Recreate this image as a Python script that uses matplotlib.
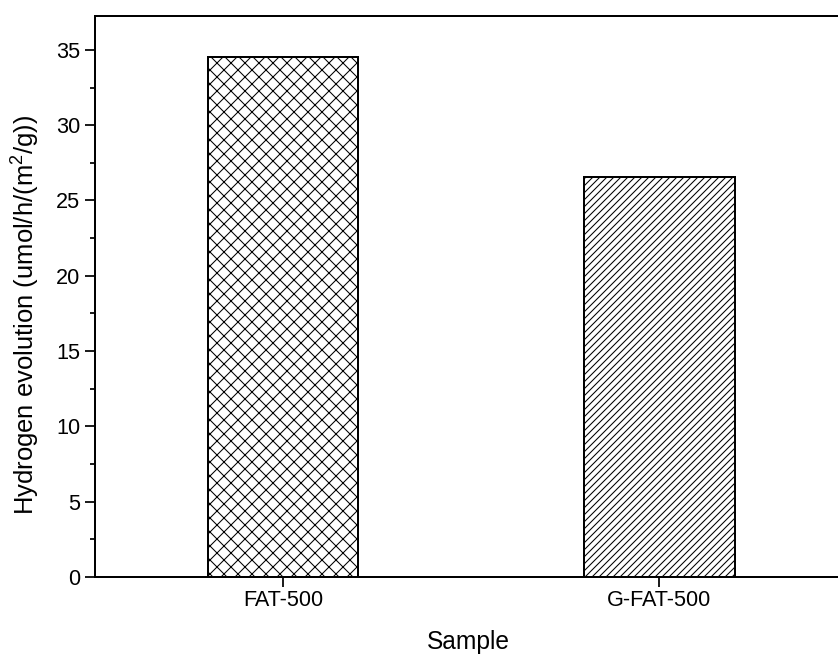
import matplotlib
matplotlib.use("Agg")
import matplotlib.pyplot as plt
from matplotlib.ticker import MultipleLocator

plt.rcParams['font.family'] = ['Liberation Sans', 'DejaVu Sans']
plt.rcParams['mathtext.fontset'] = 'custom'
plt.rcParams['mathtext.rm'] = 'Liberation Sans'
plt.rcParams['mathtext.it'] = 'Liberation Sans:italic'
plt.rcParams['hatch.linewidth'] = 0.9

samples = ["FAT-500", "G-FAT-500"]
values = [34.5, 26.55]
hatches = ["xx", "////"]

DPI = 84
fig = plt.figure(figsize=(839 / DPI, 659 / DPI), dpi=DPI)
ax = fig.add_axes([95 / 839, 1 - 577 / 659, (847.5 - 95) / 839, (577 - 16) / 659])

positions = list(range(1, len(samples) + 1))
for p, v, h in zip(positions, values, hatches):
    ax.bar(p, v, width=0.4, facecolor='white', edgecolor='black',
           linewidth=1.7, hatch=h, zorder=2)

ax.set_xlim(0.5, 2.5)
ax.set_ylim(0, 37.25)
ax.set_xticks(positions)
ax.set_xticklabels(samples)
ax.yaxis.set_major_locator(MultipleLocator(5))
ax.yaxis.set_minor_locator(MultipleLocator(2.5))

ax.tick_params(axis='both', which='major', direction='out', length=8.5,
               width=1.5, labelsize=18.5)
ax.tick_params(axis='y', which='major', pad=4)
ax.tick_params(axis='x', which='major', pad=3)
ax.tick_params(axis='y', which='minor', direction='out', length=4.5, width=1.5)
ax.tick_params(axis='x', which='minor', bottom=False)

for s in ax.spines.values():
    s.set_linewidth(1.7)
ax.spines['right'].set_visible(False)

ax.set_xlabel("Sample", fontsize=21, va='top')
ax.xaxis.set_label_coords(0.496, -0.095)
ax.set_ylabel(r"Hydrogen evolution (umol/h/(m$^2$/g))", fontsize=22)
ax.yaxis.set_label_coords(-0.071, 0.467)

fig.savefig("out.png", dpi=DPI)
